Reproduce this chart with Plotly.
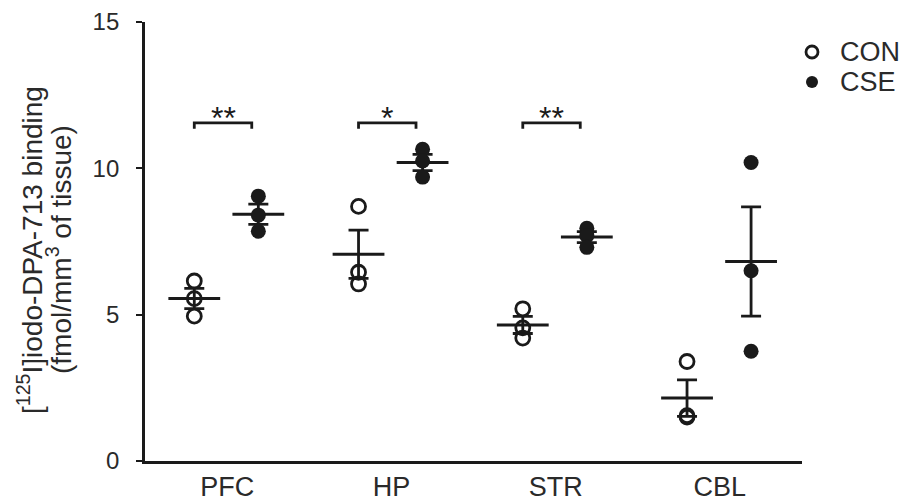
import numpy as np
import plotly.graph_objects as go

regions = ["PFC", "HP", "STR", "CBL"]
con_values = [
    [6.15, 5.55, 4.95],
    [8.7, 6.45, 6.05],
    [5.2, 4.55, 4.2],
    [3.4, 1.5, 1.55],
]
cse_values = [
    [9.05, 8.4, 7.85],
    [10.65, 10.25, 9.7],
    [7.95, 7.7, 7.3],
    [10.2, 6.5, 3.75],
]
sig_labels = ["**", "*", "**", ""]
legend_names = ["CON", "CSE"]
ytitle_lines = ["[<sup>125</sup>I]iodo-DPA-713 binding", "(fmol/mm<sup>3</sup> of tissue)"]

OFF_CON = -0.2
OFF_CSE = 0.19
INK = "#1a1a1a"
TXT = "#2a2a2a"
FONT = "Liberation Sans, Arial, sans-serif"

W, H = 899, 494
ML, MR, MT, MB = 137, 105, 14, 41
PW, PH = W - ML - MR, H - MT - MB

def px(xf):  # figure pixel -> paper x
    return (xf - ML) / PW

def py(yf):  # figure pixel -> paper y
    return 1 - (yf - MT) / PH

fig = go.Figure()

def add_group(values, offset, name, filled):
    xs, ys = [], []
    mx, my, me = [], [], []
    for i, vals in enumerate(values):
        for v in vals:
            xs.append(i + offset)
            ys.append(v)
        arr = np.array(vals)
        mx.append(i + offset)
        my.append(arr.mean())
        me.append(arr.std(ddof=1) / np.sqrt(len(arr)))
    fig.add_trace(go.Scatter(
        x=mx, y=my, mode="markers", showlegend=False, hoverinfo="skip",
        marker=dict(symbol="line-ew", size=37, line=dict(width=3, color=INK)),
        error_y=dict(type="data", array=me, visible=True, thickness=2.8, width=10, color=INK),
    ))
    fig.add_trace(go.Scatter(
        x=xs, y=ys, mode="markers", name=name, showlegend=False,
        marker=dict(
            symbol="circle" if filled else "circle-open",
            size=15 if filled else 14,
            color=INK,
            line=dict(width=2.8 if not filled else 0, color=INK),
        ),
    ))

add_group(con_values, OFF_CON, legend_names[0], False)
add_group(cse_values, OFF_CSE, legend_names[1], True)

# significance brackets
for i, lab in enumerate(sig_labels):
    if not lab:
        continue
    x0, x1 = i + OFF_CON, i + OFF_CSE - 0.04
    y_top, y_bot = 11.55, 11.35
    fig.add_shape(type="path",
                  path=f"M {x0} {y_bot} L {x0} {y_top} L {x1} {y_top} L {x1} {y_bot}",
                  line=dict(color=INK, width=2.8), xref="x", yref="y")
    fig.add_annotation(x=(x0 + x1) / 2, y=y_top, text=lab, showarrow=False,
                       yanchor="bottom", yshift=-15,
                       font=dict(size=32, color=INK, family=FONT))

# manual legend
for k, (nm, filled) in enumerate(zip(legend_names, [False, True])):
    ly = py(44 + 30 * k)
    fig.add_shape(type="circle", xref="paper", yref="paper",
                  xsizemode="pixel", ysizemode="pixel", xanchor=px(804), yanchor=ly,
                  x0=-6, x1=6, y0=-6, y1=6,
                  line=dict(color=INK, width=2.8 if not filled else 0),
                  fillcolor=INK if filled else "rgba(0,0,0,0)")
    fig.add_annotation(xref="paper", yref="paper", x=px(830), y=ly,
                       xanchor="left", yanchor="middle", showarrow=False, text=nm,
                       font=dict(size=27, color=TXT, family=FONT))

# y-axis title (two lines, tight spacing)
for k, line in enumerate(ytitle_lines):
    fig.add_annotation(
        xref="paper", yref="paper", x=px(22 + 29 * k), y=py(242),
        xanchor="center", yanchor="middle", textangle=-90, showarrow=False,
        text=line, font=dict(size=28, color=TXT, family=FONT),
    )

fig.update_layout(
    width=W, height=H,
    margin=dict(l=ML, r=MR, t=MT, b=MB, autoexpand=False),
    plot_bgcolor="white", paper_bgcolor="white",
    font=dict(family=FONT, size=20, color=TXT),
    showlegend=False,
)
fig.update_xaxes(
    type="linear", range=[-0.5, 3.5],
    tickmode="array", tickvals=list(range(len(regions))), ticktext=regions,
    showline=True, linecolor=INK, linewidth=2.8, ticks="",
    showgrid=False, zeroline=False,
    tickfont=dict(size=27, color=TXT),
)
fig.update_yaxes(
    range=[0, 15], tickvals=[0, 5, 10, 15],
    showline=True, linecolor=INK, linewidth=2.8,
    ticks="outside", ticklen=6, tickwidth=2.4, tickcolor=INK,
    ticklabelstandoff=12,
    showgrid=False, zeroline=False,
    tickfont=dict(size=24, color=TXT),
)

fig.write_html("out.html")
